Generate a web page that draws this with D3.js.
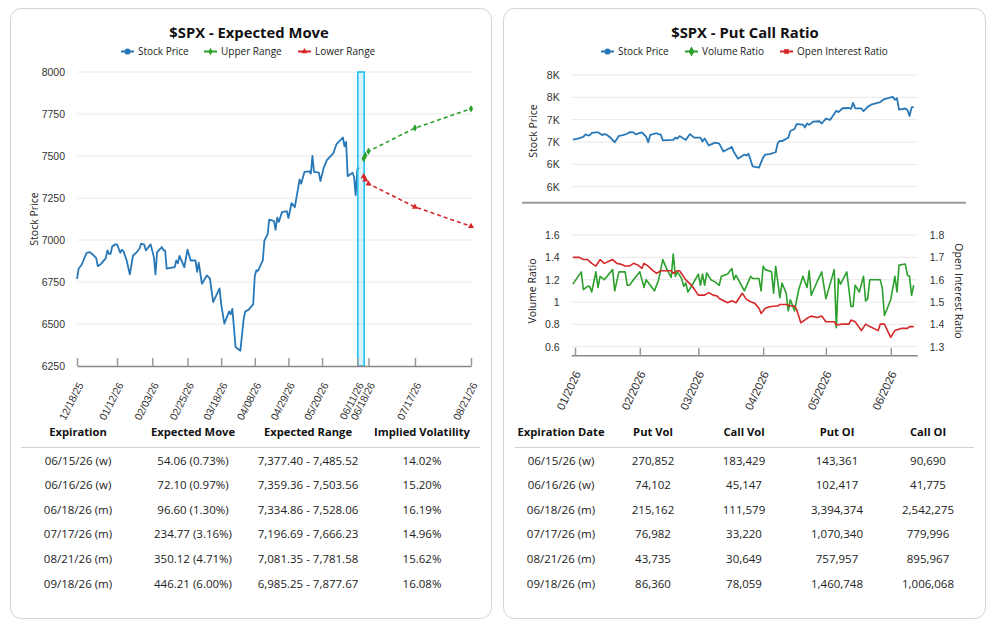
<!DOCTYPE html>
<html><head><meta charset="utf-8">
<script src="https://cdn.jsdelivr.net/npm/d3@7"></script>
<style>
body{margin:0;background:#fff;}
svg{font-family:"Open Sans","Noto Sans",sans-serif;}
</style>
</head><body>
<svg id="c" width="996" height="633"></svg>
<script>
// ---------------- DATA ----------------
const stockDates = ["2025-12-18","2025-12-19","2025-12-21","2025-12-22","2025-12-24","2025-12-26","2025-12-28","2025-12-30","2025-12-31",
"2026-01-02","2026-01-05","2026-01-06","2026-01-07","2026-01-08","2026-01-09","2026-01-11","2026-01-12","2026-01-14","2026-01-15","2026-01-16","2026-01-18","2026-01-20","2026-01-22","2026-01-24","2026-01-26","2026-01-27","2026-01-29","2026-01-30",
"2026-02-02","2026-02-04","2026-02-05","2026-02-06","2026-02-09","2026-02-10","2026-02-11","2026-02-12","2026-02-17","2026-02-18","2026-02-19","2026-02-20","2026-02-23","2026-02-25","2026-02-27",
"2026-03-02","2026-03-03","2026-03-04","2026-03-06","2026-03-09","2026-03-11","2026-03-12","2026-03-13","2026-03-17","2026-03-18","2026-03-20","2026-03-23","2026-03-24","2026-03-25","2026-03-27","2026-03-30",
"2026-04-01","2026-04-02","2026-04-04","2026-04-07","2026-04-08","2026-04-09","2026-04-10","2026-04-13","2026-04-14","2026-04-16","2026-04-17","2026-04-20","2026-04-21","2026-04-22","2026-04-23","2026-04-25","2026-04-28","2026-04-29",
"2026-05-01","2026-05-03","2026-05-06","2026-05-07","2026-05-09","2026-05-12","2026-05-13","2026-05-14","2026-05-15","2026-05-18","2026-05-19","2026-05-21","2026-05-23","2026-05-27","2026-05-29",
"2026-06-02","2026-06-03","2026-06-04","2026-06-05","2026-06-08","2026-06-09","2026-06-10","2026-06-11","2026-06-12"];
const stockPrices = [6769,6829,6854,6878,6924,6928,6912,6892,6844,
6858,6892,6938,6918,6918,6962,6974,6974,6924,6942,6934,6878,6795,6908,6924,6948,6978,6972,6938,
6974,6898,6795,6928,6958,6938,6938,6829,6838,6878,6862,6906,6838,6942,6878,
6878,6810,6865,6739,6789,6772,6700,6630,6712,6620,6502,6575,6558,6590,6363,6341,
6525,6574,6584,6617,6784,6820,6816,6878,6998,7033,7121,7113,7061,7133,7107,7166,7172,7131,
7220,7196,7360,7336,7405,7409,7395,7501,7405,7401,7351,7429,7475,7515,7570,
7610,7558,7584,7380,7400,7375,7266,7420,7431];

const expiryLabels = ["06/15/26 (w)","06/16/26 (w)","06/18/26 (m)","07/17/26 (m)","08/21/26 (m)","09/18/26 (m)"];
const expiryDates = ["2026-06-15","2026-06-16","2026-06-18","2026-07-17","2026-08-21","2026-09-18"];
const expectedMove = ["54.06 (0.73%)","72.10 (0.97%)","96.60 (1.30%)","234.77 (3.16%)","350.12 (4.71%)","446.21 (6.00%)"];
const lowerRange = [7377.40,7359.36,7334.86,7196.69,7081.35,6985.25];
const upperRange = [7485.52,7503.56,7528.06,7666.23,7781.58,7877.67];
const impliedVol = ["14.02%","15.20%","16.19%","14.96%","15.62%","16.08%"];

const leftTickDates = ["2025-12-18","2026-01-12","2026-02-03","2026-02-25","2026-03-18","2026-04-08","2026-04-29","2026-05-20","2026-06-11","2026-06-18","2026-07-17","2026-08-21"];
const leftYTicks = [6250,6500,6750,7000,7250,7500,7750,8000];
const highlightDates = ["2026-06-11","2026-06-15"];

const volDates = ["2025-12-31","2026-01-04","2026-01-05","2026-01-07","2026-01-08","2026-01-09","2026-01-11","2026-01-12","2026-01-13","2026-01-15","2026-01-19","2026-01-20","2026-01-22","2026-01-25","2026-01-26","2026-01-27","2026-01-29",
"2026-02-01","2026-02-03","2026-02-04","2026-02-08","2026-02-10","2026-02-12","2026-02-14","2026-02-16","2026-02-17","2026-02-18","2026-02-19","2026-02-21","2026-02-22","2026-02-23","2026-02-24","2026-02-26",
"2026-03-01","2026-03-02","2026-03-03","2026-03-04","2026-03-05","2026-03-07","2026-03-09","2026-03-11","2026-03-12","2026-03-15","2026-03-17","2026-03-18","2026-03-19","2026-03-23","2026-03-26","2026-03-27","2026-03-30","2026-03-31",
"2026-04-01","2026-04-02","2026-04-05","2026-04-06","2026-04-07","2026-04-09","2026-04-10","2026-04-12","2026-04-13","2026-04-14","2026-04-16","2026-04-18","2026-04-20","2026-04-22","2026-04-23","2026-04-24","2026-04-27","2026-04-29",
"2026-05-01","2026-05-05","2026-05-06","2026-05-07","2026-05-08","2026-05-11","2026-05-13","2026-05-14","2026-05-15","2026-05-17","2026-05-19","2026-05-20","2026-05-21","2026-05-22","2026-05-27","2026-05-28","2026-05-29",
"2026-06-01","2026-06-03","2026-06-04","2026-06-05","2026-06-08","2026-06-09","2026-06-10","2026-06-11","2026-06-12"];
const volumeRatio = [1.16,1.27,1.11,1.14,1.14,1.09,1.27,1.13,1.23,1.20,1.29,1.10,1.27,1.27,1.15,1.15,1.20,
1.27,1.13,1.20,1.10,1.20,1.38,1.29,1.22,1.43,1.23,1.27,1.21,1.14,1.17,1.09,1.15,
1.25,1.15,1.25,1.15,1.26,1.20,1.18,1.15,1.23,1.25,1.30,1.20,1.24,1.10,1.23,1.21,1.21,1.10,
1.32,1.29,1.27,1.08,1.32,1.04,1.17,1.08,0.92,1.02,0.92,1.11,1.23,1.13,1.28,1.06,1.19,1.27,
1.03,1.29,0.77,1.21,1.16,1.27,0.96,0.96,1.15,1.09,1.23,1.01,1.03,1.20,1.20,1.12,0.88,
1.02,1.23,1.09,1.33,1.34,1.24,1.23,1.06,1.15];

const oiDates = ["2025-12-31","2026-01-03","2026-01-05","2026-01-07","2026-01-09","2026-01-11","2026-01-13","2026-01-15","2026-01-19","2026-01-21","2026-01-23","2026-01-25","2026-01-27","2026-01-29","2026-01-31",
"2026-02-02","2026-02-03","2026-02-05","2026-02-07","2026-02-09","2026-02-11","2026-02-16","2026-02-17","2026-02-19","2026-02-20","2026-02-23","2026-02-26",
"2026-03-01","2026-03-04","2026-03-06","2026-03-08","2026-03-10","2026-03-11","2026-03-15","2026-03-17","2026-03-19","2026-03-22","2026-03-24","2026-03-26","2026-03-28","2026-03-30","2026-03-31",
"2026-04-02","2026-04-04","2026-04-07","2026-04-08","2026-04-09","2026-04-12","2026-04-14","2026-04-16","2026-04-17","2026-04-19","2026-04-22","2026-04-24","2026-04-27","2026-04-29",
"2026-05-01","2026-05-02","2026-05-05","2026-05-06","2026-05-09","2026-05-12","2026-05-13","2026-05-15","2026-05-18","2026-05-20","2026-05-22","2026-05-26","2026-05-27","2026-05-29",
"2026-06-01","2026-06-03","2026-06-06","2026-06-09","2026-06-10","2026-06-12"];
const oiRatio = [1.70,1.70,1.69,1.69,1.673,1.661,1.69,1.673,1.69,1.673,1.669,1.661,1.661,1.673,1.666,
1.651,1.673,1.661,1.643,1.628,1.64,1.64,1.628,1.64,1.64,1.599,1.572,
1.531,1.531,1.542,1.531,1.527,1.516,1.497,1.506,1.497,1.539,1.512,1.501,1.494,1.472,1.449,
1.472,1.479,1.482,1.482,1.489,1.489,1.482,1.482,1.467,1.407,1.427,1.437,1.431,1.437,
1.412,1.412,1.412,1.397,1.401,1.401,1.419,1.412,1.372,1.401,1.39,1.372,1.401,1.401,
1.342,1.372,1.382,1.382,1.39,1.39];

const monthTicks = ["2026-01-01","2026-02-01","2026-03-01","2026-04-01","2026-05-01","2026-06-01"];
const priceTicksK = [6000,6400,6800,7200,7600,8000];
const volTicks = [0.6,0.8,1.0,1.2,1.4,1.6];
const oiTicks = [1.3,1.4,1.5,1.6,1.7,1.8];

const putVol = [270852,74102,215162,76982,43735,86360];
const callVol = [183429,45147,111579,33220,30649,78059];
const putOI = [143361,102417,3394374,1070340,757957,1460748];
const callOI = [90690,41775,2542275,779996,895967,1006068];

// ---------------- DRAW ----------------
const parse = d3.utcParse("%Y-%m-%d");
const svg = d3.select("#c");
const C = {blue:"#2878b8", green:"#2ca02c", red:"#d62728", grid:"#e8e8e8", text:"#333", axis:"#999"};

svg.append("rect").attr("width",996).attr("height",633).attr("fill","#fff");
[[10.5,481],[503.5,482]].forEach(([x,w])=>{
  svg.append("rect").attr("x",x).attr("y",8.5).attr("width",w).attr("height",610)
    .attr("rx",11).attr("fill","#fff").attr("stroke","#d4d4d4").attr("stroke-width",1);
});

function title(x, y, t){
  svg.append("text").attr("x",x).attr("y",y).attr("text-anchor","middle")
    .attr("font-size",14.8).attr("font-weight",700).attr("fill","#111").text(t);
}
function legend(items, y){
  items.forEach(it=>{
    const g = svg.append("g").attr("transform",`translate(${it.x},${y})`);
    g.append("line").attr("x1",0).attr("x2",13).attr("stroke",it.color).attr("stroke-width",2);
    g.append("path").attr("transform","translate(6.5,0)")
      .attr("d", d3.symbol().type(it.sym).size(it.size||24)()).attr("fill",it.color);
    g.append("text").attr("x",17).attr("y",0).attr("dy","0.35em").attr("font-size",10)
      .attr("fill","#222").text(it.label);
  });
}

// ===== LEFT CHART =====
title(249, 38, "$SPX - Expected Move");
legend([
  {x:121,label:"Stock Price",color:C.blue,sym:d3.symbolCircle,size:30},
  {x:204,label:"Upper Range",color:C.green,sym:d3.symbolDiamond,size:16},
  {x:298,label:"Lower Range",color:C.red,sym:d3.symbolTriangle,size:16}
], 51.5);

const xL = d3.scaleUtc().domain([parse(leftTickDates[0]), parse(leftTickDates[leftTickDates.length-1])]).range([77,471]);
const yL = d3.scaleLinear().domain([6250,8000]).range([366,72]);

svg.append("g").selectAll("line").data(leftYTicks.slice(1)).join("line")
  .attr("x1",77).attr("x2",472).attr("y1",d=>yL(d)).attr("y2",d=>yL(d))
  .attr("stroke",C.grid).attr("stroke-width",1);

const yAxL = svg.append("g").attr("transform","translate(77,0)")
  .call(d3.axisLeft(yL).tickValues(leftYTicks).tickSize(0).tickPadding(12).tickFormat(d3.format("d")));
yAxL.select(".domain").remove();
yAxL.selectAll("text").attr("font-size",10.5).attr("fill",C.text).style("font-family","inherit");

svg.append("text").attr("transform","translate(38,219) rotate(-90)").attr("text-anchor","middle")
  .attr("font-size",10.5).attr("fill","#222").text("Stock Price");

const stock = stockDates.map((d,i)=>({date:parse(d), v:stockPrices[i]}));
svg.append("path").datum(stock).attr("fill","none").attr("stroke",C.blue).attr("stroke-width",1.8)
  .attr("stroke-linejoin","round")
  .attr("d", d3.line().x(d=>xL(d.date)).y(d=>yL(d.v)));

// highlight rectangle
svg.append("rect").attr("x",xL(parse(highlightDates[0]))+0.5).attr("y",72)
  .attr("width",xL(parse(highlightDates[1]))-xL(parse(highlightDates[0]))).attr("height",366-72)
  .attr("fill","rgba(40,190,240,0.18)").attr("stroke","#22c3f2").attr("stroke-width",1.6);

const rangeIdx = expiryDates.map((d,i)=>i).filter(i=>parse(expiryDates[i])<=xL.domain()[1]);
const upper = rangeIdx.map(i=>({date:parse(expiryDates[i]), v:upperRange[i]}));
const lower = rangeIdx.map(i=>({date:parse(expiryDates[i]), v:lowerRange[i]}));
const lineL = d3.line().x(d=>xL(d.date)).y(d=>yL(d.v));
svg.append("path").datum(upper).attr("fill","none").attr("stroke",C.green).attr("stroke-width",1.6)
  .attr("stroke-dasharray","4,3").attr("d",lineL);
svg.append("path").datum(lower).attr("fill","none").attr("stroke",C.red).attr("stroke-width",1.6)
  .attr("stroke-dasharray","4,3").attr("d",lineL);
svg.append("g").selectAll("path").data(upper).join("path")
  .attr("transform",d=>`translate(${xL(d.date)},${yL(d.v)})`)
  .attr("d",d3.symbol().type(d3.symbolDiamond).size(16)()).attr("fill",C.green);
svg.append("g").selectAll("path").data(lower).join("path")
  .attr("transform",d=>`translate(${xL(d.date)},${yL(d.v)})`)
  .attr("d",d3.symbol().type(d3.symbolTriangle).size(16)()).attr("fill",C.red);

const xAxL = svg.append("g").attr("transform","translate(0,366)")
  .call(d3.axisBottom(xL).tickValues(leftTickDates.map(parse)).tickSizeInner(-8).tickSizeOuter(0)
    .tickFormat(d3.utcFormat("%m/%d/%y")));
xAxL.select(".domain").attr("stroke","#888").attr("stroke-width",1.5);
xAxL.selectAll(".tick line").attr("stroke","#999").attr("stroke-width",1.5);
xAxL.selectAll("text").attr("y",0).attr("dy","0.35em").attr("transform","translate(3,17) rotate(-63)")
  .attr("text-anchor","end").attr("font-size",10.5).attr("fill",C.text).style("font-family","inherit");

// tables
function table(cols, rows, cx, lineX1, lineX2){
  const g = svg.append("g");
  cols.forEach((c,j)=>{
    g.append("text").attr("x",cx[j]).attr("y",436).attr("text-anchor","middle")
      .attr("font-size",11.2).attr("font-weight",700).attr("fill","#111").text(c);
  });
  g.append("line").attr("x1",lineX1).attr("x2",lineX2).attr("y1",447.5).attr("y2",447.5)
    .attr("stroke","#d0d0d0").attr("stroke-width",1);
  rows.forEach((r,i)=>{
    r.forEach((v,j)=>{
      g.append("text").attr("x",cx[j]).attr("y",464.5+i*24.6).attr("text-anchor","middle")
        .attr("font-size",11.5).attr("fill","#222").text(v);
    });
  });
}
const f2 = d3.format(",.2f"), fi = d3.format(",");
table(["Expiration","Expected Move","Expected Range","Implied Volatility"],
  expiryLabels.map((e,i)=>[e, expectedMove[i], f2(lowerRange[i])+" - "+f2(upperRange[i]), impliedVol[i]]),
  [78,193,308,422], 21, 480);

// ===== RIGHT CHART =====
title(745, 38, "$SPX - Put Call Ratio");
legend([
  {x:601,label:"Stock Price",color:C.blue,sym:d3.symbolCircle,size:30},
  {x:685,label:"Volume Ratio",color:C.green,sym:d3.symbolDiamond,size:30},
  {x:780,label:"Open Interest Ratio",color:C.red,sym:d3.symbolSquare,size:22}
], 51.5);

const xR = d3.scaleUtc().domain([parse(monthTicks[0]), parse(monthTicks[5])]).range([575,890.7]);
const yP = d3.scaleLinear().domain([6000,8000]).range([186.7,75]);
const yV = d3.scaleLinear().domain([0.6,1.6]).range([346.7,235]);
const yO = d3.scaleLinear().domain([1.3,1.8]).range([346.7,235]);

svg.append("g").selectAll("line").data(priceTicksK).join("line")
  .attr("x1",571.7).attr("x2",917.7).attr("y1",d=>yP(d)).attr("y2",d=>yP(d))
  .attr("stroke",C.grid);
const yAxP = svg.append("g").attr("transform","translate(571.7,0)")
  .call(d3.axisLeft(yP).tickValues(priceTicksK).tickSize(0).tickPadding(12)
    .tickFormat(d=>(d/1000).toFixed(0)+"K"));
yAxP.select(".domain").remove();
yAxP.selectAll("text").attr("font-size",10.5).attr("fill",C.text).style("font-family","inherit");
svg.append("text").attr("transform","translate(537,131) rotate(-90)").attr("text-anchor","middle")
  .attr("font-size",10.5).attr("fill","#222").text("Stock Price");

const stockR = stock.filter(d=>d.date>=parse("2025-12-31"));
svg.append("path").datum(stockR).attr("fill","none").attr("stroke",C.blue).attr("stroke-width",1.8)
  .attr("stroke-linejoin","round")
  .attr("d", d3.line().x(d=>xR(d.date)).y(d=>yP(d.v)));

svg.append("line").attr("x1",522).attr("x2",966).attr("y1",202.7).attr("y2",202.7)
  .attr("stroke","#999").attr("stroke-width",2);

svg.append("g").selectAll("line").data(volTicks).join("line")
  .attr("x1",571.7).attr("x2",917.7).attr("y1",d=>yV(d)).attr("y2",d=>yV(d))
  .attr("stroke",C.grid);
const yAxV = svg.append("g").attr("transform","translate(571.7,0)")
  .call(d3.axisLeft(yV).tickValues(volTicks).tickSize(0).tickPadding(12).tickFormat(d=>String(+d.toFixed(1))));
yAxV.select(".domain").remove();
yAxV.selectAll("text").attr("font-size",10.5).attr("fill",C.text).style("font-family","inherit");
const yAxO = svg.append("g").attr("transform","translate(917.7,0)")
  .call(d3.axisRight(yO).tickValues(oiTicks).tickSize(0).tickPadding(12).tickFormat(d3.format(".1f")));
yAxO.select(".domain").remove();
yAxO.selectAll("text").attr("font-size",10.5).attr("fill",C.text).style("font-family","inherit");
svg.append("text").attr("transform","translate(536,291) rotate(-90)").attr("text-anchor","middle")
  .attr("font-size",10.5).attr("fill","#222").text("Volume Ratio");
svg.append("text").attr("transform","translate(955,291) rotate(90)").attr("text-anchor","middle")
  .attr("font-size",10.5).attr("fill","#222").text("Open Interest Ratio");

const vol = volDates.map((d,i)=>({date:parse(d), v:volumeRatio[i]}));
const oi = oiDates.map((d,i)=>({date:parse(d), v:oiRatio[i]}));
svg.append("path").datum(vol).attr("fill","none").attr("stroke",C.green).attr("stroke-width",1.6)
  .attr("stroke-linejoin","round").attr("d", d3.line().x(d=>xR(d.date)).y(d=>yV(d.v)));
svg.append("path").datum(oi).attr("fill","none").attr("stroke",C.red).attr("stroke-width",1.6)
  .attr("stroke-linejoin","round").attr("d", d3.line().x(d=>xR(d.date)).y(d=>yO(d.v)));

const xAxR = svg.append("g").attr("transform","translate(0,355.7)")
  .call(d3.axisBottom(xR).tickValues(monthTicks.map(parse)).tickSizeInner(-8).tickSizeOuter(0)
    .tickFormat(d3.utcFormat("%m/%Y")));
xAxR.select(".domain").attr("d","M571.7,0H917.7").attr("stroke","#888").attr("stroke-width",1.5);
xAxR.selectAll(".tick line").attr("stroke","#999").attr("stroke-width",1.5);
xAxR.selectAll("text").attr("y",0).attr("dy","0.35em").attr("transform","translate(2,16) rotate(-65)")
  .attr("text-anchor","end").attr("font-size",11.5).attr("fill",C.text).style("font-family","inherit");

table(["Expiration Date","Put Vol","Call Vol","Put OI","Call OI"],
  expiryLabels.map((e,i)=>[e, fi(putVol[i]), fi(callVol[i]), fi(putOI[i]), fi(callOI[i])]),
  [561,653,744,837,928], 515, 974);
</script>
</body></html>
